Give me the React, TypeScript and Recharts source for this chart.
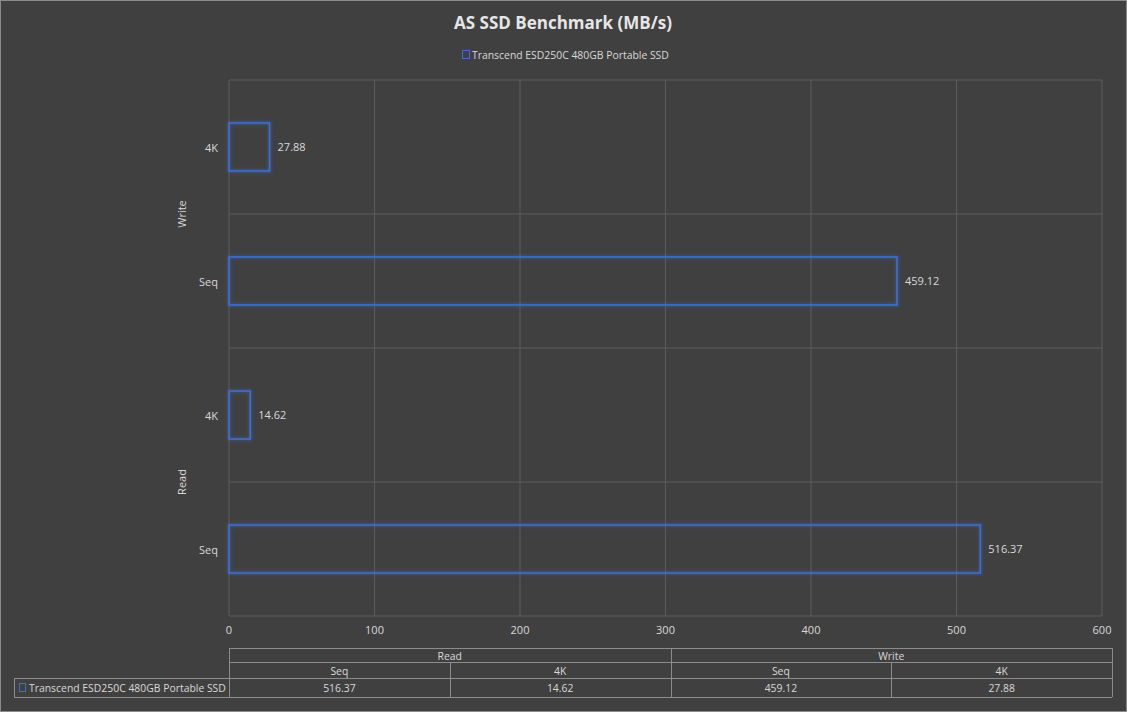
import React from 'react';
import { BarChart, Bar, XAxis, YAxis, CartesianGrid, LabelList, Customized } from 'recharts';

const title = 'AS SSD Benchmark (MB/s)';
const seriesName = 'Transcend ESD250C 480GB Portable SSD';
const groups = ['Write', 'Write', 'Read', 'Read'];
const subs = ['4K', 'Seq', '4K', 'Seq'];
const values = [27.88, 459.12, 14.62, 516.37];
const xTicks = [0, 100, 200, 300, 400, 500, 600];

const data = subs.map((s, i) => ({ key: `${groups[i]}-${s}`, sub: s, group: groups[i], value: values[i] }));

const W = 1127;
const H = 712;
const PLOT_LEFT = 229;
const PLOT_RIGHT = 1102;
const PLOT_TOP = 80;
const PLOT_BOTTOM = 616;
const PLOT_H = PLOT_BOTTOM - PLOT_TOP;
const BAND = PLOT_H / data.length;
const X_AXIS_H = 30;
const Y_AXIS_W = 60;

const FONT = '"Open Sans", "Noto Sans", sans-serif';
const TEXT = '#d9d9d9';
const BLUE = '#3f6fd6';
const GRID = '#5c5c5c';
const TABLE_LINE = '#8c8c8c';
const SMALL = 10.4;

const YTick = (props: any) => {
  const { x, y, payload, index } = props;
  const d = data[index];
  const first = index === 0 || data[index - 1].group !== d.group;
  return (
    <g>
      <text x={x} y={y} textAnchor="end" dominantBaseline="central" fill={TEXT} fontSize={11} fontFamily={FONT}>
        {d ? d.sub : payload.value}
      </text>
      {first && (
        <text
          x={181}
          y={y + BAND / 2}
          textAnchor="middle"
          dominantBaseline="central"
          fill={TEXT}
          fontSize={11}
          fontFamily={FONT}
          transform={`rotate(-90 181 ${y + BAND / 2})`}
        >
          {d.group}
        </text>
      )}
    </g>
  );
};

const GlowBar = (props: any) => {
  const { x, y, width, height } = props;
  if (width == null || height == null) return null;
  return (
    <g>
      <rect x={x} y={y} width={width} height={height} fill="none" stroke={BLUE} strokeWidth={3} opacity={0.45} filter="url(#glow)" />
      <rect x={x} y={y} width={width} height={height} fill="none" stroke={BLUE} strokeWidth={1.5} />
    </g>
  );
};

const Overlay = () => {
  const tLeft = 229;
  const tRight = 1112;
  const labelLeft = 14;
  const r0 = 648;
  const r1 = 662;
  const r2 = 678;
  const r3 = 697;
  const tableOrder = data.map((_, i) => data.length - 1 - i);
  const colW = (tRight - tLeft) / tableOrder.length;
  const groupNames: string[] = [];
  tableOrder.forEach((i) => {
    if (!groupNames.includes(data[i].group)) groupNames.push(data[i].group);
  });
  const txt = (x: number, y: number, s: string, anchor = 'middle') => (
    <text x={x} y={y} textAnchor={anchor} dominantBaseline="central" fill={TEXT} fontSize={SMALL} fontFamily={FONT}>
      {s}
    </text>
  );
  return (
    <g>
      <defs>
        <filter id="glow" x="-20%" y="-20%" width="140%" height="140%">
          <feGaussianBlur stdDeviation="1.6" />
        </filter>
      </defs>
      <rect x={0.5} y={0.5} width={W - 1} height={H - 1} fill="none" stroke="#8a8a8a" />
      <text x={563} y={22} textAnchor="middle" dominantBaseline="central" fill="#e6e6e6" fontSize={17} fontWeight="bold" fontFamily={FONT}>
        {title}
      </text>
      <rect x={462.5} y={50.5} width={7} height={8} fill="none" stroke={BLUE} strokeWidth={1} />
      {txt(472, 54.5, seriesName, 'start')}

      <g stroke={TABLE_LINE} strokeWidth={1} fill="none">
        <line x1={tLeft} y1={r0 + 0.5} x2={tRight} y2={r0 + 0.5} />
        <line x1={tLeft} y1={r1 + 0.5} x2={tRight} y2={r1 + 0.5} />
        <line x1={labelLeft} y1={r2 + 0.5} x2={tRight} y2={r2 + 0.5} />
        <line x1={labelLeft} y1={r3 + 0.5} x2={tRight} y2={r3 + 0.5} />
        <line x1={labelLeft + 0.5} y1={r2} x2={labelLeft + 0.5} y2={r3} />
        <line x1={tLeft + 0.5} y1={r0} x2={tLeft + 0.5} y2={r3} />
        <line x1={tRight + 0.5} y1={r0} x2={tRight + 0.5} y2={r3} />
        {tableOrder.map((_, c) =>
          c === 0 ? null : (
            <line
              key={c}
              x1={Math.round(tLeft + c * colW) + 0.5}
              y1={c % 2 === 0 ? r0 : r1}
              x2={Math.round(tLeft + c * colW) + 0.5}
              y2={r3}
            />
          )
        )}
      </g>
      {groupNames.map((g) => {
        const cols = tableOrder.filter((i) => data[i].group === g).length;
        const start = tableOrder.findIndex((i) => data[i].group === g);
        return <g key={g}>{txt(tLeft + (start + cols / 2) * colW, (r0 + r1) / 2 + 0.5, g)}</g>;
      })}
      {tableOrder.map((i, c) => (
        <g key={c}>
          {txt(tLeft + (c + 0.5) * colW, (r1 + r2) / 2 + 0.5, data[i].sub)}
          {txt(tLeft + (c + 0.5) * colW, (r2 + r3) / 2 + 0.5, data[i].value.toFixed(2))}
        </g>
      ))}
      <rect x={19.5} y={683.5} width={6} height={8} fill="none" stroke={BLUE} strokeWidth={1} />
      {txt(29, (r2 + r3) / 2 + 0.5, seriesName, 'start')}
    </g>
  );
};

export default function App() {
  const hPoints = data.map((_, i) => PLOT_TOP + i * BAND).concat([PLOT_BOTTOM]);
  return (
    <div style={{ position: 'absolute', left: 0, top: 0, width: W, height: H, background: '#404040' }}>
      <BarChart
        width={W}
        height={H}
        data={data}
        layout="vertical"
        margin={{ top: PLOT_TOP, right: W - PLOT_RIGHT, bottom: H - PLOT_BOTTOM - X_AXIS_H, left: PLOT_LEFT - Y_AXIS_W }}
      >
        <CartesianGrid stroke={GRID} horizontalPoints={hPoints} />
        <XAxis
          type="number"
          domain={[0, 600]}
          ticks={xTicks}
          axisLine={false}
          tickLine={false}
          tickMargin={4}
          tick={{ fill: TEXT, fontSize: 11, fontFamily: FONT }}
          height={X_AXIS_H}
        />
        <YAxis
          type="category"
          dataKey="key"
          width={Y_AXIS_W}
          axisLine={false}
          tickLine={false}
          tickSize={6}
          tickMargin={5}
          tick={<YTick />}
          interval={0}
        />
        <Bar dataKey="value" isAnimationActive={false} shape={<GlowBar />} barSize={48}>
          <LabelList
            dataKey="value"
            position="right"
            offset={8}
            fill={TEXT}
            fontSize={11}
            fontFamily={FONT}
            formatter={(v: any) => Number(v).toFixed(2)}
          />
        </Bar>
        <Customized component={Overlay} />
      </BarChart>
    </div>
  );
}
